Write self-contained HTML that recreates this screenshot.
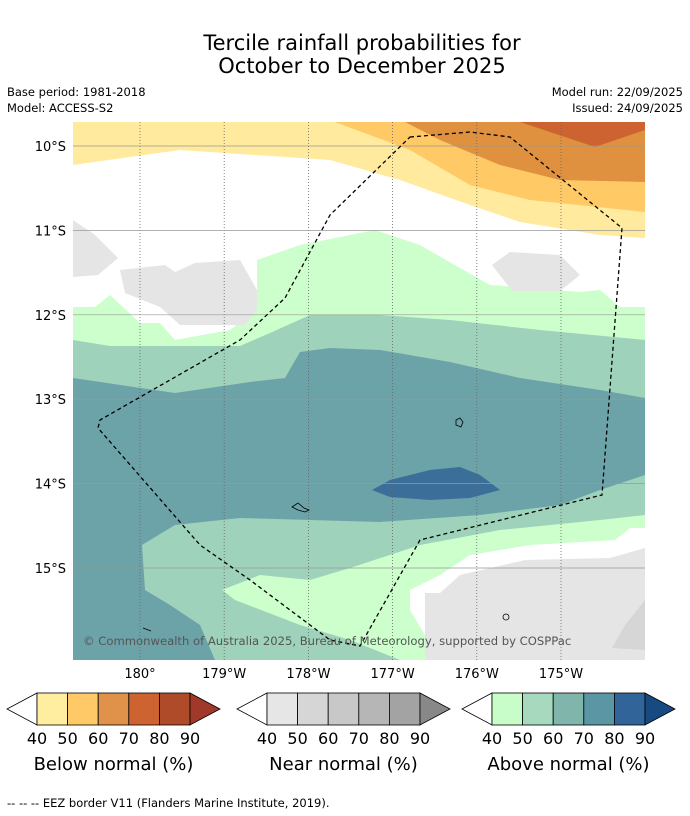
<!DOCTYPE html>
<html><head><meta charset="utf-8"><style>
body{margin:0;background:#fff;font-family:"DejaVu Sans","Liberation Sans",sans-serif;}
svg{display:block}
text{font-family:"DejaVu Sans","Liberation Sans",sans-serif;}
</style></head><body>
<svg width="690" height="816" viewBox="0 0 690 816">
<rect width="690" height="816" fill="#fff"/>
<text x="362" y="50" font-size="21" text-anchor="middle">Tercile rainfall probabilities for</text>
<text x="362" y="73" font-size="21" text-anchor="middle">October to December 2025</text>
<text x="7" y="96" font-size="11.5">Base period: 1981-2018</text>
<text x="7" y="112" font-size="11.5">Model: ACCESS-S2</text>
<text x="683" y="96" font-size="11.5" text-anchor="end">Model run: 22/09/2025</text>
<text x="683" y="112" font-size="11.5" text-anchor="end">Issued: 24/09/2025</text>
<defs><clipPath id="mc"><rect x="73" y="122" width="572" height="538"/></clipPath></defs>
<g clip-path="url(#mc)">
<rect x="73" y="122" width="572" height="538" fill="#fff"/>
<polygon fill="#FFEA9E" points="73,122 645,122 645,238 600,235 520,222 470,205 400,180 330,160 180,150 73,165"/>
<polygon fill="#FFC966" points="335,122 645,122 645,212 530,200 470,185 410,150"/>
<polygon fill="#E0913F" points="405,122 645,122 645,182 560,180 500,165 440,140"/>
<polygon fill="#CC6330" points="520,122 645,122 645,130 595,147"/>
<polygon fill="#CCFFCC" points="73,307 95,307 110,295 140,323 160,323 175,340 230,330 257,310 257,260 300,245 375,230 420,245 460,268 490,285 580,292 600,290 620,307 645,307 645,528 630,528 615,540 530,545 470,555 440,575 410,590 410,610 440,660 73,660"/>
<polygon fill="#9ED2BA" points="73,340 110,346 240,346 270,333 310,315 380,315 450,320 540,330 645,340 645,515 600,520 500,530 420,545 350,568 310,580 260,575 222,590 235,600 300,625 350,640 400,660 73,660"/>
<polygon fill="#6CA3A8" points="73,378 175,393 250,382 285,378 300,352 330,348 380,350 450,362 520,378 600,390 645,398 645,475 600,490 560,505 480,515 380,522 240,518 175,525 142,545 145,590 170,605 200,625 215,660 73,660"/>
<polygon fill="#3B6E99" points="372,490 390,480 430,470 460,467 480,475 500,490 470,498 430,500 390,497"/>
<polygon fill="#fff" points="645,540 615,558 530,558 470,570 445,590 425,593 425,660 645,660"/>
<polygon fill="#E5E5E5" points="440,593 460,575 525,560 610,558 645,548 645,660 425,660 425,593"/>
<polygon fill="#E5E5E5" points="73,220 95,235 118,258 98,275 73,277"/>
<polygon fill="#E5E5E5" points="120,270 165,265 175,272 195,263 240,260 257,290 257,310 245,325 180,325 160,307 125,293"/>
<polygon fill="#E5E5E5" points="492,265 510,252 560,255 580,275 560,291 512,291"/>
<polygon fill="#D6D6D6" points="645,600 625,625 612,648 645,650"/>
<g id="grid" stroke-width="0.8"></g>
<polygon fill="none" stroke="#000" stroke-width="1.3" stroke-dasharray="4,3" points="410,137 470,132 510,137 622,228 602,495 420,540 360,646 330,640 250,580 200,545 98,428 100,420 240,340 285,298 330,215 410,137"/>
<path d="M456,420 l4,-2 3,4 -2,5 -5,-2z M292,507 l6,-4 6,5 5,2 -4,2 -7,-2z M503,617 a3,3 0 1,0 6,0 a3,3 0 1,0 -6,0 M143,628 l8,3" fill="none" stroke="#000" stroke-width="0.8"/>
<text x="83" y="645" font-size="11.6" fill="#555">© Commonwealth of Australia 2025, Bureau of Meteorology, supported by COSPPac</text>
</g>
<g id="ticks"></g>
<g id="bars"></g>
<text x="7" y="807" font-size="11.5">--  --  -- EEZ border V11 (Flanders Marine Institute, 2019).</text>
</svg>
<script>
const lonLabels=["180°","179°W","178°W","177°W","176°W","175°W"];
const lonValues=[180,181,182,183,184,185];
const latLabels=["10°S","11°S","12°S","13°S","14°S","15°S"];
const latValues=[10,11,12,13,14,15];
const belowColors=["#FFEDA0","#FEC966","#E0914A","#CC6330","#B04B2A","#A0392A"];
const nearColors=["#E6E6E6","#D6D6D6","#C8C8C8","#B6B6B6","#A3A3A3","#888888"];
const aboveColors=["#C8FCC9","#A6D9BE","#80B5AC","#5A96A4","#31659A","#174A80"];
const cbTicks=["40","50","60","70","80","90"];
const cbTitles=["Below normal (%)","Near normal (%)","Above normal (%)"];
const NS="http://www.w3.org/2000/svg";
function xs(lon){return 140+(lon-180)*84.2;}
function ys(lat){return 146+(lat-10)*84.4;}
function mk(t,a,p){const e=document.createElementNS(NS,t);for(const k in a)e.setAttribute(k,a[k]);p.appendChild(e);return e;}
const grid=document.getElementById('grid'),ticks=document.getElementById('ticks');
lonValues.forEach((v,i)=>{
 const l=mk('line',{x1:xs(v),x2:xs(v),y1:122,y2:660,stroke:'#666','stroke-dasharray':'1,2'},grid);
 
 
 const t=mk('text',{x:xs(v),y:678,'font-size':13,'text-anchor':'middle'},ticks);t.textContent=lonLabels[i];
 
 
});
latValues.forEach((v,i)=>{
 const l=mk('line',{x1:73,x2:645,y1:ys(v),y2:ys(v),stroke:'#999','stroke-width':0.7},grid);
 
 
 const t=mk('text',{x:66,y:ys(v)+5,'font-size':13,'text-anchor':'end'},ticks);t.textContent=latLabels[i];
 
 
});
const bars=document.getElementById('bars');
const sets=[belowColors,nearColors,aboveColors],starts=[37,267,492];
sets.forEach((cols,j)=>{
 const x0=starts[j],w=30.6,y0=693,h=32;
 const g=mk('g',{},bars);
 
 
 mk('polygon',{points:`${x0},${y0} ${x0-30},${y0+h/2} ${x0},${y0+h}`,fill:'#fff',stroke:'#000','stroke-width':0.8},g);
 for(let i=0;i<5;i++){mk('rect',{x:x0+i*w,y:y0,width:w,height:h,fill:cols[i],stroke:'#000','stroke-width':0.8},g);}
 const xe=x0+5*w;
 mk('polygon',{points:`${xe},${y0} ${xe+30},${y0+h/2} ${xe},${y0+h}`,fill:cols[5],stroke:'#000','stroke-width':0.8},g);
 cbTicks.forEach((t,i)=>{const e=mk('text',{x:x0+i*w,y:744,'font-size':16,'text-anchor':'middle'},g);e.textContent=t;});
 const tt=mk('text',{x:x0+2.5*w,y:770,'font-size':18,'text-anchor':'middle'},g);tt.textContent=cbTitles[j];
});
</script>
</body></html>
